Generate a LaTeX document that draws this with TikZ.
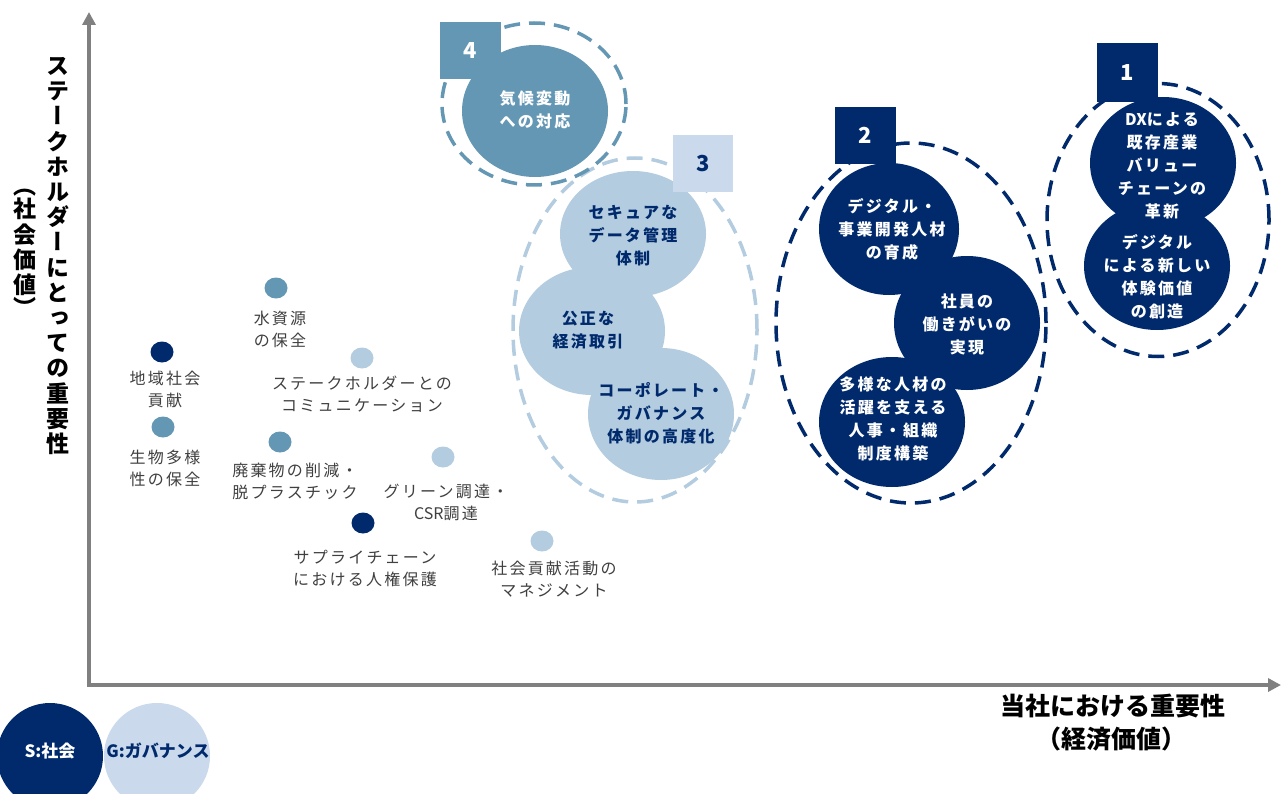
\documentclass[tikz,border=0pt]{standalone}
\usepackage{fontspec}
\usetikzlibrary{shapes.geometric,arrows.meta}
\setmainfont{Noto Sans CJK JP}
\newfontfamily\jpv[RawFeature=+vert]{Noto Sans CJK JP}
\newfontfamily\jpls[LetterSpace=14]{Noto Sans CJK JP}
\newfontfamily\jpn{Noto Sans CJK JP}
\definecolor{navy}{RGB}{0,42,108}
\definecolor{steel}{RGB}{100,151,180}
\definecolor{lightb}{RGB}{179,204,224}
\definecolor{paleb}{RGB}{202,217,236}
\definecolor{axisgray}{RGB}{128,128,128}
\definecolor{txtgray}{RGB}{64,64,64}
\tikzset{
  axisline/.style={draw=axisgray, line width=3.5pt, line join=miter},
  ring/.style={ellipse, draw, line width=3.5pt, dash pattern=on 16pt off 9pt, inner sep=0pt},
  bub/.style={ellipse, inner sep=0pt, draw=none},
  bubtext/.style={align=center, font=\jpls\bfseries\fontsize{16}{23}\selectfont, inner sep=0pt},
  numbox/.style={rectangle, inner sep=0pt, font=\bfseries\fontsize{22}{24}\selectfont},
  dotm/.style={ellipse, inner sep=0pt, minimum width=23pt, minimum height=21pt, draw=none},
  lbl/.style={align=center, text=txtgray, font=\jpls\fontsize{16}{22}\selectfont, inner sep=0pt},
  axtitle/.style={align=center, font=\bfseries\fontsize{25}{27}\selectfont, inner sep=0pt},
  vtitle/.style={align=center, font=\jpv\bfseries\fontsize{23}{25.2}\selectfont, inner sep=0pt},
  legc/.style={circle, inner sep=0pt, minimum size=106pt, draw=none},
  legt/.style={font=\bfseries\fontsize{17}{19}\selectfont, inner sep=0pt},
}
\begin{document}
\begin{tikzpicture}[x=1pt,y=-1pt]
\useasboundingbox (0,0) rectangle (1281,794);
\fill[white] (0,0) rectangle (1281,794);

% axes
\coordinate (ytop) at (89,12);
\coordinate (O) at (89,685);
\coordinate (xend) at (1281,685);
\draw[axisline, {Triangle[width=13pt,length=13pt]}-{Triangle[width=13pt,length=13pt]}] (ytop) -- (O) -- (xend);

% axis titles
\node[vtitle] (yt1) at (58,256) {ス\\テ\\ー\\ク\\ホ\\ル\\ダ\\ー\\に\\と\\っ\\て\\の\\重\\要\\性};
\node[vtitle] (yt2) at (25,253) {（\\[-2pt]社\\会\\価\\値\\[-2pt]）};
\node[axtitle] (xt1) at (1113,706) {当社における重要性};
\node[axtitle] (xt2) at (1111,739) {（経済価値）};

% rings
\node[ring, draw=lightb, minimum width=244pt, minimum height=344pt] (r3) at (635,330) {};
\node[ring, draw=steel, minimum width=184pt, minimum height=162pt] (r4) at (534,104) {};
\node[ring, draw=navy, minimum width=270pt, minimum height=360pt] (r2) at (911,323) {};
\node[ring, draw=navy, minimum width=222pt, minimum height=273pt] (r1) at (1158,220) {};

% cluster 4
\node[bub, fill=steel, minimum width=146pt, minimum height=132pt] (c4) at (535,111) {};
\node[numbox, fill=steel, text=white, minimum width=61pt, minimum height=57pt] (n4) at (470.5,50.5) {4};
\node[bubtext, text=white] (t4) at (535,110) {気候変動\\への対応};

% cluster 3
\node[bub, fill=lightb, minimum width=146pt, minimum height=126pt] (c3a) at (633,234) {};
\node[bub, fill=lightb, minimum width=146pt, minimum height=128pt] (c3b) at (592,331) {};
\node[bub, fill=lightb, minimum width=146pt, minimum height=132pt] (c3c) at (661,414) {};
\node[numbox, fill=paleb, text=navy, minimum width=60pt, minimum height=57pt] (n3) at (703,163.5) {3};
\node[bubtext, text=navy] (t3a) at (633,236) {セキュアな\\データ管理\\体制};
\node[bubtext, text=navy] (t3b) at (588,330) {公正な\\経済取引};
\node[bubtext, text=navy] (t3c) at (661,413) {コーポレート・\\ガバナンス\\体制の高度化};

% cluster 2
\node[bub, fill=navy, minimum width=140pt, minimum height=132pt] (c2a) at (889,229) {};
\node[bub, fill=navy, minimum width=146pt, minimum height=134pt] (c2b) at (967,323) {};
\node[bub, fill=navy, minimum width=146pt, minimum height=130pt] (c2c) at (892,422) {};
\node[numbox, fill=navy, text=white, minimum width=61pt, minimum height=57pt] (n2) at (865.5,135.5) {2};
\node[bubtext, text=white] (t2a) at (892,229) {デジタル・\\事業開発人材\\の育成};
\node[bubtext, text=white] (t2b) at (967,324) {社員の\\働きがいの\\実現};
\node[bubtext, text=white] (t2c) at (893,419) {多様な人材の\\活躍を支える\\人事・組織\\制度構築};

% cluster 1
\node[bub, fill=navy, minimum width=146pt, minimum height=132pt] (c1a) at (1163,163) {};
\node[bub, fill=navy, minimum width=146pt, minimum height=128pt] (c1b) at (1157,266) {};
\node[numbox, fill=navy, text=white, minimum width=61pt, minimum height=59pt] (n1) at (1127.5,72.5) {1};
\node[bubtext, text=white] (t1a) at (1162,166) {{\jpn\bfseries DX}による\\既存産業\\バリュー\\チェーンの\\革新};
\node[bubtext, text=white] (t1b) at (1157,277) {デジタル\\による新しい\\体験価値\\の創造};

% small items
\node[dotm, fill=steel] (d1) at (276,288) {};
\node[lbl] (l1) at (280,329) {水資源\\の保全};
\node[dotm, fill=navy] (d2) at (162,352) {};
\node[lbl] (l2) at (165,389) {地域社会\\貢献};
\node[dotm, fill=steel] (d3) at (163,427) {};
\node[lbl] (l3) at (165,468) {生物多様\\性の保全};
\node[dotm, fill=lightb] (d4) at (362,358) {};
\node[lbl] (l4) at (362,394) {ステークホルダーとの\\コミュニケーション};
\node[dotm, fill=steel] (d5) at (280,442) {};
\node[lbl] (l5) at (295,481) {廃棄物の削減・\\脱プラスチック};
\node[dotm, fill=lightb] (d6) at (443,457) {};
\node[lbl] (l6) at (446,502) {グリーン調達・\\{\jpn CSR}調達};
\node[dotm, fill=navy] (d7) at (363,523) {};
\node[lbl] (l7) at (365,569) {サプライチェーン\\における人権保護};
\node[dotm, fill=lightb] (d8) at (542,541) {};
\node[lbl] (l8) at (554,579) {社会貢献活動の\\マネジメント};

% legend
\node[legc, fill=navy] (ls) at (50,756) {};
\node[legc, fill=paleb] (lg) at (157,756) {};
\node[legt, text=white] (lst) at (50,751) {S:社会};
\node[legt, text=navy] (lgt) at (158,751) {G:ガバナンス};
\end{tikzpicture}
\end{document}
